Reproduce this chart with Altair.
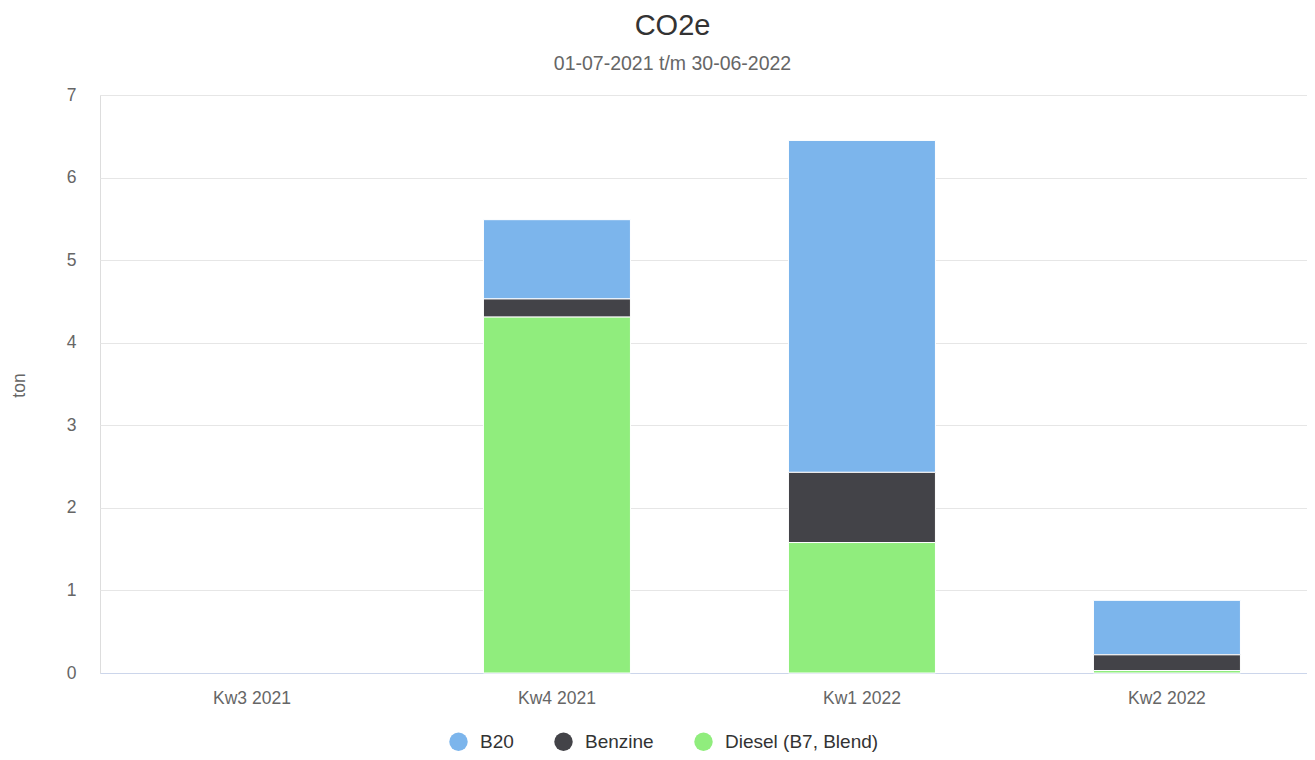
import altair as alt
import pandas as pd

categories = ["Kw3 2021", "Kw4 2021", "Kw1 2022", "Kw2 2022"]
series = ["B20", "Benzine", "Diesel (B7, Blend)"]
colors = ["#7cb5ec", "#434348", "#90ed7d"]
b20 = [0, 0.96, 4.02, 0.66]
benzine = [0, 0.22, 0.85, 0.19]
diesel = [0, 4.31, 1.58, 0.03]
stack_order = {"Diesel (B7, Blend)": 0, "Benzine": 1, "B20": 2}

rows = []
for i, c in enumerate(categories):
    for s, vals in zip(series, [b20, benzine, diesel]):
        rows.append({"cat": c, "series": s, "value": vals[i], "ord": stack_order[s]})
df = pd.DataFrame(rows)

FONT = "Liberation Sans"

chart = alt.Chart(df).transform_filter(
    alt.datum.value > 0
).mark_bar(stroke="white", strokeWidth=1).encode(
    x=alt.X("cat:N", sort=categories,
            scale=alt.Scale(domain=categories, paddingInner=0.518, paddingOuter=0.2377, align=0.541),
            axis=alt.Axis(title=None, labelAngle=0, ticks=False, labelPadding=16,
                          labelFontSize=17.5, labelColor="#666666", labelFont=FONT,
                          domainColor="#ccd6eb", domainWidth=1, grid=False)),
    y=alt.Y("value:Q", stack="zero",
            scale=alt.Scale(domain=[0, 7], nice=False),
            axis=alt.Axis(title="ton", values=[0, 1, 2, 3, 4, 5, 6, 7], ticks=False, domain=False,
                          labelPadding=24, labelFontSize=17.5, labelColor="#666666", labelFont=FONT,
                          gridColor="#e6e6e6", gridWidth=1,
                          titleFont=FONT, titleFontSize=17.5, titleFontWeight="normal",
                          titleColor="#666666", titleX=-81, titleY=290, titleAngle=270,
                          titleAlign="center", titleBaseline="middle")),
    color=alt.Color("series:N", sort=series,
                    scale=alt.Scale(domain=series, range=colors),
                    legend=alt.Legend(title=None, orient="none", legendX=349, legendY=637,
                                      direction="horizontal", symbolType="circle",
                                      symbolSize=340, symbolStrokeWidth=0, labelFontSize=19,
                                      labelFont=FONT, labelColor="#333333", labelOffset=12,
                                      columnPadding=40)),
    order=alt.Order("ord:Q", sort="ascending"),
).properties(
    width=1207,
    height=578,
    autosize=alt.AutoSizeParams(type="none"),
    padding={"left": 92, "top": 87, "right": 0, "bottom": 79},
    title=alt.TitleParams(
        text="CO2e",
        subtitle="01-07-2021 t/m 30-06-2022",
        font=FONT, fontSize=29, fontWeight="normal", color="#333333",
        subtitleFont=FONT, subtitleFontSize=19.5, subtitleColor="#666666",
        subtitlePadding=14, anchor="middle", dx=-31, offset=13,
    ),
).configure_view(stroke=None).configure(background="white")

chart.save("out.html", embed_options={"renderer": "svg", "actions": False})
